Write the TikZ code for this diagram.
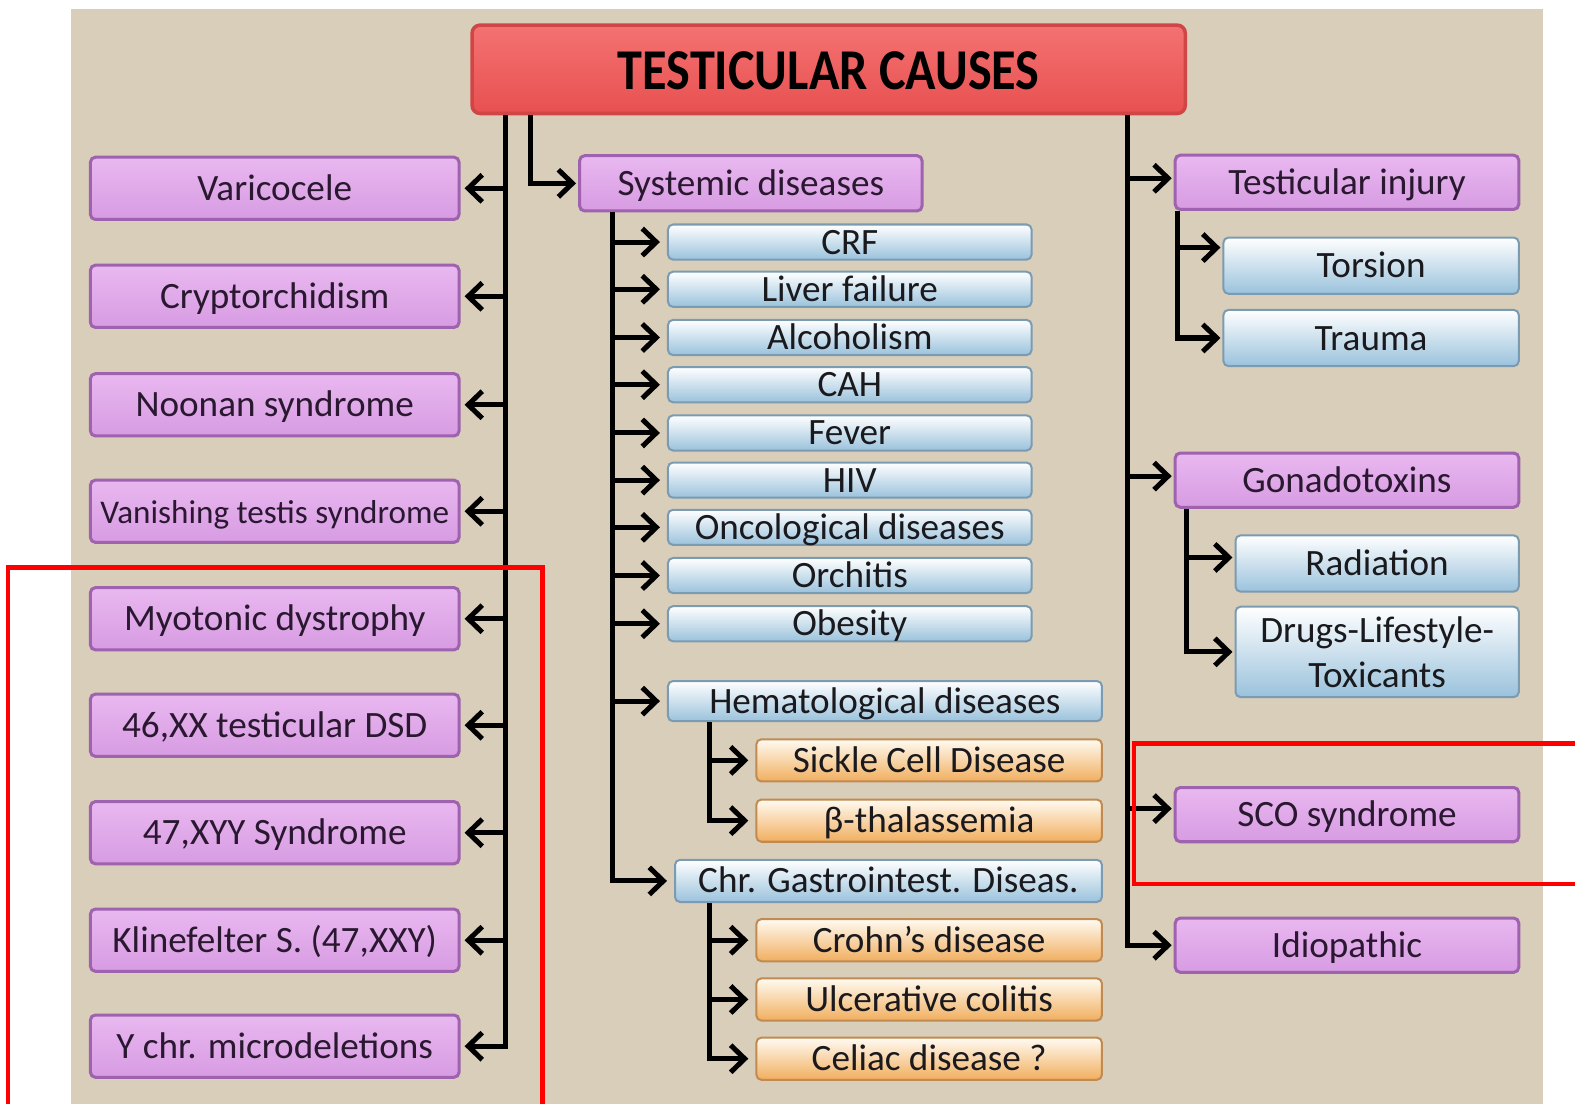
\documentclass[tikz,border=0pt]{standalone}
\usepackage{fontspec}
\usepackage{graphicx}
\setmainfont{Carlito}
\usetikzlibrary{arrows.meta}
\definecolor{bg}{HTML}{D9CEBA}
\definecolor{ptop}{HTML}{E9B8F0}
\definecolor{pbot}{HTML}{D79BE2}
\definecolor{pdraw}{HTML}{9E62AE}
\definecolor{ptext}{HTML}{2A1830}
\definecolor{bbot}{HTML}{9AC2DC}
\definecolor{bdraw}{HTML}{7B9BB3}
\definecolor{otop}{HTML}{FFFBF2}
\definecolor{obot}{HTML}{F1AE5E}
\definecolor{odraw}{HTML}{C08A50}
\definecolor{ttop}{HTML}{F47272}
\definecolor{tbot}{HTML}{E85050}
\definecolor{tdraw}{HTML}{D04545}
\definecolor{annot}{HTML}{FF0000}
\definecolor{txt}{HTML}{1A1A1E}
\tikzset{
  box/.style={rounded corners=5pt, inner sep=0pt, align=center,
    font=\fontsize{37}{45}\selectfont, text=txt, text height=28pt, text depth=4pt},
  pbox/.style={box, draw=pdraw, line width=3pt, top color=ptop, bottom color=pbot, text=ptext},
  bbox/.style={box, draw=bdraw, line width=2pt, top color=white, bottom color=bbot},
  obox/.style={box, draw=odraw, line width=2pt, top color=otop, bottom color=obot},
  lbox/.style={pbox, minimum width=367pt, minimum height=62pt},
  mbox/.style={bbox, minimum width=362pt, minimum height=35pt},
  orbox/.style={obox, minimum width=344pt, minimum height=42pt},
  rbox/.style={pbox, minimum width=342pt, minimum height=54pt},
  arr/.style={line width=5pt, draw=black, line join=miter, -{Straight Barb[length=14pt,width=27pt]}},
  larr/.style={arr, shorten >=4pt},
  marr/.style={arr, shorten >=7pt},
  annotline/.style={draw=annot, line width=4.5pt}
}
\begin{document}
\begin{tikzpicture}[x=1pt,y=-1pt]
\useasboundingbox (0,0) rectangle (1568,1099);
\fill[white] (0,0) rectangle (1568,1099);
\fill[bg] (71,9) rectangle (1536,1099);

% title
\node[rounded corners=8pt, draw=tdraw, line width=3.5pt, top color=ttop, bottom color=tbot,
  minimum width=710pt, minimum height=88pt, inner sep=0pt, text height=44pt, text depth=3pt,
  font=\fontsize{50}{54}\selectfont\bfseries] (title) at (825,69)
  {\scalebox{1}[1.15]{TESTICULAR CAUSES}};

% left column
\node[lbox] (var) at (273.5,187.5) {Varicocele};
\node[lbox] (cry) at (273.5,295) {Cryptorchidism};
\node[lbox] (noo) at (273.5,403) {Noonan syndrome};
\node[lbox, font=\fontsize{33}{40}\selectfont] (van) at (273.5,509) {Vanishing testis syndrome};
\node[lbox] (myo) at (273.5,616) {Myotonic dystrophy};
\node[lbox] (xx) at (273.5,722) {46,XX testicular DSD};
\node[lbox] (xyy) at (273.5,829) {47,XYY Syndrome};
\node[lbox] (kli) at (273.5,936) {Klinefelter S. (47,XXY)};
\node[lbox] (ych) at (273.5,1041.5) {Y chr. microdeletions};

% middle column
\node[pbox, minimum width=341pt, minimum height=55pt] (sys) at (747.5,182.5) {Systemic diseases};
\node[mbox] (crf) at (846,241) {CRF};
\node[mbox] (liv) at (846,288) {Liver failure};
\node[mbox] (alc) at (846,336) {Alcoholism};
\node[mbox] (cah) at (846,383) {CAH};
\node[mbox] (fev) at (846,431) {Fever};
\node[mbox] (hiv) at (846,478) {HIV};
\node[mbox] (onc) at (846,525) {Oncological diseases};
\node[mbox] (orc) at (846,573) {Orchitis};
\node[mbox] (obe) at (846,621) {Obesity};
\node[bbox, minimum width=432pt, minimum height=40pt] (hem) at (881,698) {Hematological diseases};
\node[orbox] (sic) at (925,757) {Sickle Cell Disease};
\node[orbox] (bet) at (925,817) {β-thalassemia};
\node[bbox, minimum width=425pt, minimum height=42pt] (chr) at (884.5,877) {Chr. Gastrointest. Diseas.};
\node[orbox] (cro) at (925,936) {Crohn’s disease};
\node[orbox] (ulc) at (925,995) {Ulcerative colitis};
\node[orbox] (cel) at (925,1054) {Celiac disease ?};

% right column
\node[rbox] (tin) at (1341,181.5) {Testicular injury};
\node[bbox, minimum width=294pt, minimum height=56pt] (tor) at (1365,264.5) {Torsion};
\node[bbox, minimum width=294pt, minimum height=56pt] (tra) at (1365,336.5) {Trauma};
\node[rbox] (gon) at (1341,478) {Gonadotoxins};
\node[bbox, minimum width=282pt, minimum height=56pt] (rad) at (1371,561) {Radiation};
\node[bbox, minimum width=282pt, minimum height=90pt, text height=, text depth=] (dru) at (1371,649) {Drugs-Lifestyle-\\Toxicants};
\node[rbox] (sco) at (1341,811) {SCO syndrome};
\node[rbox] (idi) at (1341,941) {Idiopathic};

% bus coordinates
\coordinate (busL) at (503,0);
\coordinate (busS) at (528,0);
\coordinate (busM) at (610,0);
\coordinate (busH) at (706,0);
\coordinate (busR) at (1122,0);
\coordinate (busT) at (1172,0);
\coordinate (busG) at (1181,0);
\coordinate (torA) at ([yshift=18pt]tor.west);
\coordinate (radA) at ([yshift=6pt]rad.west);
\coordinate (tinA) at ([yshift=4pt]tin.west);
\coordinate (gonA) at ([yshift=4pt]gon.west);
\coordinate (scoA) at ([yshift=6pt]sco.west);

% left connectors
\draw[larr] (title.south -| busL) -- (busL |- ych.east) -- (ych.east);
\foreach \n in {var,cry,noo,van,myo,xx,xyy,kli}
  \draw[larr] (busL |- \n.east) -- (\n.east);

% systemic
\draw[arr, shorten >=2pt] (title.south -| busS) -- (busS |- sys.west) -- (sys.west);
\draw[marr] (sys.south -| busM) -- (busM |- chr.west) -- (chr.west);
\foreach \n in {crf,liv,alc,cah,fev,hiv,onc,orc,obe,hem}
  \draw[marr] (busM |- \n.west) -- (\n.west);
\draw[marr] (hem.south -| busH) -- (busH |- bet.west) -- (bet.west);
\draw[marr] (busH |- sic.west) -- (sic.west);
\draw[marr] (chr.south -| busH) -- (busH |- cel.west) -- (cel.west);
\foreach \n in {cro,ulc}
  \draw[marr] (busH |- \n.west) -- (\n.west);

% right connectors
\draw[arr, shorten >=2pt] (title.south -| busR) -- (busR |- idi.west) -- (idi.west);
\draw[arr, shorten >=2pt] (busR |- tinA) -- (tinA);
\draw[arr, shorten >=2pt] (busR |- gonA) -- (gonA);
\draw[arr, shorten >=2pt] (busR |- scoA) -- (scoA);
\draw[arr, shorten >=2pt] (tin.south -| busT) -- (busT |- tra.west) -- (tra.west);
\draw[arr, shorten >=2pt] (busT |- torA) -- (torA);
\draw[arr, shorten >=2pt] (gon.south -| busG) -- (busG |- dru.west) -- (dru.west);
\draw[arr, shorten >=2pt] (busG |- radA) -- (radA);

% red annotation frames
\draw[annotline] (8,1110) -- (8,565) -- (540,565) -- (540,1110);
\draw[annotline] (1580,740) -- (1129,740) -- (1129,880) -- (1580,880);
\end{tikzpicture}
\end{document}
